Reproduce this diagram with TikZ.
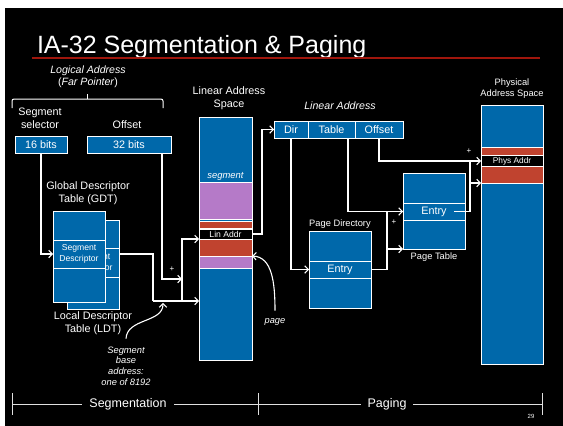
\documentclass[tikz,border=0pt]{standalone}
\usepackage{fontspec}
\setmainfont{Liberation Sans}
\usetikzlibrary{arrows.meta,calc}
\definecolor{segblue}{RGB}{0,104,170}
\definecolor{segpurple}{RGB}{181,122,200}
\definecolor{segred}{RGB}{192,67,47}
\definecolor{titlered}{RGB}{160,22,12}
\begin{document}
\begin{tikzpicture}[x=1pt,y=-1pt,
  every node/.style={text=white, inner sep=0pt, outer sep=0pt},
  blk/.style={draw=white, line width=0.8pt, fill=segblue, anchor=north west, align=center},
  band/.style={draw=white, line width=0.6pt, anchor=north west, align=center},
  lbl/.style={font=\fontsize{10.8}{13}\selectfont, align=center},
  smlbl/.style={font=\fontsize{9.3}{11}\selectfont, align=center},
  boxtxt/.style={font=\fontsize{10.8}{13}\selectfont},
  tinytxt/.style={font=\fontsize{8.6}{11}\selectfont},
  plus/.style={font=\fontsize{8}{9}\selectfont},
  conn/.style={draw=white, line width=1.1pt},
  arr/.style={conn, -{Straight Barb[length=3.5pt,width=7.5pt]}},
  rule/.style={draw=white!88!black, line width=0.9pt}
]
\useasboundingbox (0,0) rectangle (563,426);
\fill[white] (0,0) rectangle (563,426);
\fill[black] (5,8) rectangle (563,426);

% title
\node[anchor=base west, font=\fontsize{25}{30}\selectfont] (title) at (37,53) {IA-32 Segmentation \& Paging};
\draw[titlered, line width=1.6pt] (32,58) -- (540,58);

% logical address
\node[lbl, font=\fontsize{10.6}{12}\selectfont\itshape] (logical) at (88,77) {Logical Address\\\textup{(}Far Pointer\textup{)}};
\draw[white, line width=1pt, rounded corners=2pt] (12,108) -- (12,99) -- (163,99) -- (163,108);
\draw[white, line width=1pt] (87,99) -- (87,94);
\node[lbl] (sellbl) at (40,118) {Segment\\selector};
\node[lbl] (offlbl) at (127,125) {Offset};
\node[blk, boxtxt, minimum width=52pt, minimum height=17pt] (sel) at (15,136) {16 bits};
\node[blk, boxtxt, minimum width=84pt, minimum height=17pt] (off) at (87,136) {32 bits};

% descriptor tables
\node[lbl] (gdtlbl) at (88,193) {Global Descriptor\\Table (GDT)};
\node[blk, minimum width=52pt, minimum height=89pt] (ldt) at (67,220) {};
\node[blk, tinytxt, minimum width=52pt, minimum height=29pt] (ldtrow) at (67,248) {Segment\\Descriptor};
\node[blk, minimum width=52pt, minimum height=91pt] (gdt) at (53,211) {};
\node[blk, tinytxt, minimum width=52pt, minimum height=28pt] (gdtrow) at (53,240) {Segment\\Descriptor};
\node[lbl] (ldtlbl) at (93,323) {Local Descriptor\\Table (LDT)};
\node[smlbl, font=\fontsize{9.3}{10.7}\selectfont\itshape] (sbase) at (126,366) {Segment\\base\\address:\\one of 8192};

% linear address space
\node[lbl] (laslbl) at (229,98) {Linear Address\\Space};
\node[blk, minimum width=53pt, minimum height=243pt] (las) at (199,117) {};
\node[font=\fontsize{9.4}{11}\selectfont\itshape] (seglbl) at (225.5,176) {segment};
\node[band, fill=segpurple, minimum width=53pt, minimum height=37pt] (pur1) at (199,182) {};
\node[band, fill=segred, minimum width=53pt, minimum height=7pt] (red1) at (199,221) {};
\node[band, fill=black, tinytxt, minimum width=53pt, minimum height=10pt] (linaddr) at (199,229) {Lin Addr};
\node[band, fill=segred, minimum width=53pt, minimum height=16.5pt] (red2) at (199,239.5) {};
\node[band, fill=segpurple, minimum width=53pt, minimum height=12pt] (pur2) at (199,256) {};
\node[font=\fontsize{9.3}{11}\selectfont\itshape] (pagelbl) at (275,322) {page};

% linear address fields
\node[font=\fontsize{10.6}{12}\selectfont\itshape] (linlbl) at (340,106) {Linear Address};
\node[blk, boxtxt, minimum width=34pt, minimum height=17pt] (dir) at (274,121) {Dir};
\node[blk, boxtxt, minimum width=47pt, minimum height=17pt] (table) at (308,121) {Table};
\node[blk, boxtxt, minimum width=48pt, minimum height=17pt] (offs) at (355,121) {Offset};

% page directory and page table
\node[smlbl] (pdlbl) at (340,224) {Page Directory};
\node[blk, minimum width=62pt, minimum height=77pt] (pd) at (309,231) {};
\node[blk, boxtxt, minimum width=62pt, minimum height=17pt] (pdentry) at (309,261) {Entry};
\node[blk, minimum width=62pt, minimum height=76pt] (pt) at (403,173) {};
\node[blk, boxtxt, minimum width=62pt, minimum height=17pt] (ptentry) at (403,203) {Entry};
\node[smlbl] (ptlbl) at (434,257) {Page Table};

% physical address space
\node[smlbl] (paslbl) at (512,89) {Physical\\Address Space};
\node[blk, minimum width=62pt, minimum height=259pt] (pas) at (481,105) {};
\node[band, fill=segred, minimum width=62pt, minimum height=8pt] (red3) at (481,147.5) {};
\node[band, fill=black, font=\fontsize{8.3}{10}\selectfont, minimum width=62pt, minimum height=11pt] (physaddr) at (481,155.5) {Phys Addr};
\node[band, fill=segred, minimum width=62pt, minimum height=16.5pt] (red4) at (481,166.5) {};

% segmentation connectors
\coordinate (segbase) at (153,301);
\coordinate (sumA) at (182,279);
\draw[arr] (sel.south) |- (gdtrow.west);
\draw[arr] ([xshift=-9pt]off.south east) |- (sumA);
\draw[conn] (gdtrow.east -| ldt.east) -| (segbase);
\draw[arr] (segbase) -- (segbase -| las.west);
\draw[arr] (sumA |- segbase) |- (linaddr.south west);
\node[plus] (plusA) at (172,269) {+};
\coordinate (sbtip) at (163,303);
\draw[arr] ([yshift=8pt]sbase.north) .. controls (127,318) and (163,323) .. (sbtip);
\draw[arr] ([yshift=8pt]pagelbl.north) .. controls (275,282) and (272,257) .. (red2.south east);

% paging connectors
\draw[arr] (linaddr.east) -- ++(10,0) |- (dir.west);
\draw[arr] (dir.south) |- (pdentry.west);
\draw[arr] ([xshift=-7pt]table.south east) |- (ptentry.west);
\coordinate (sumB) at ($(ptentry.west)+(-16,0)$);
\draw[conn] (pdentry.east) -| (sumB);
\draw[arr] (sumB |- pt.south west) -- (pt.south west);
\node[plus] (plusB) at (394,222) {+};
\draw[arr] (offs.south) |- (physaddr.west);
\coordinate (sumC) at ($(physaddr.west)+(-11,0)$);
\draw[conn] ([xshift=-11pt]ptentry.east) -| (sumC);
\draw[arr] (sumC |- red4.south west) -- (red4.south west);
\node[plus] (plusC) at (469,151) {+};

% phase ruler
\draw[rule] (12,404) -- (542,404);
\draw[rule] (12,393) -- (12,415);
\draw[rule] (258,393) -- (258,415);
\draw[rule] (542,393) -- (542,415);
\node[fill=black, inner xsep=7pt, inner ysep=2pt, font=\fontsize{12.5}{14}\selectfont] (segtxt) at (128,404) {Segmentation};
\node[fill=black, inner xsep=7pt, inner ysep=2pt, font=\fontsize{12.5}{14}\selectfont] (pagtxt) at (387,404) {Paging};
\node[font=\fontsize{6}{7}\selectfont] (pgnum) at (531,416) {29};
\end{tikzpicture}
\end{document}
